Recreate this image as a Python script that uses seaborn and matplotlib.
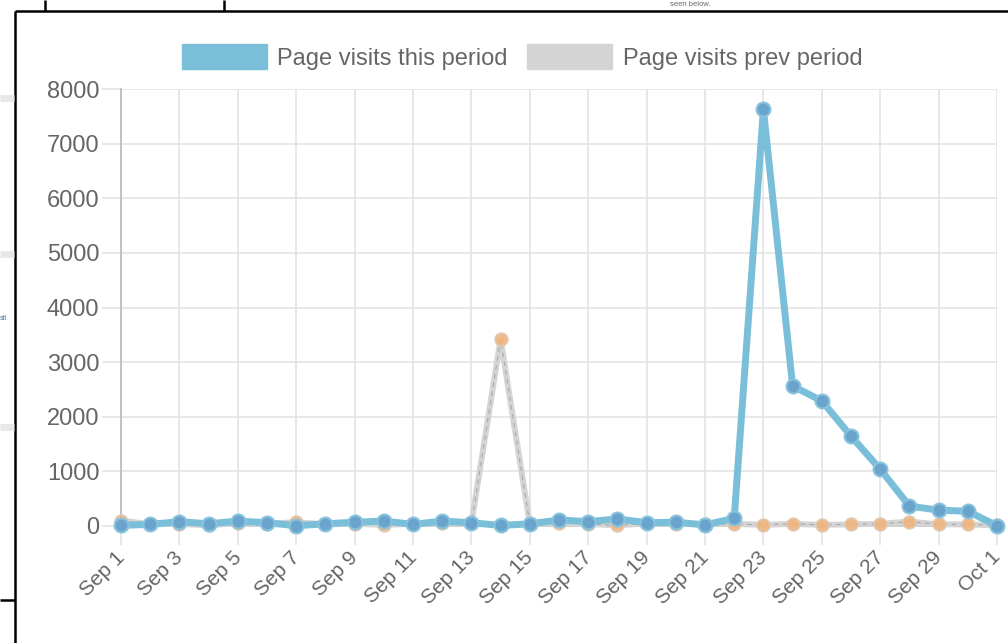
import matplotlib.pyplot as plt
import matplotlib.patches as mpatches
import matplotlib.transforms as mtrans
from matplotlib.lines import Line2D
import seaborn as sns
import pandas as pd

# Daily page visits, Sep 1 - Oct 1
dates = pd.date_range("2017-09-01", "2017-10-01", freq="D")
this_period = [10, 30, 80, 40, 90, 60, 5, 40, 70, 90, 30, 90, 60, 10, 40,
               110, 80, 130, 60, 70, 20, 140, 7630, 2565, 2290, 1645, 1040,
               365, 290, 270, 5]
prev_period = [100, 30, 40, 10, 60, 40, 70, 30, 40, 20, 40, 60, 50, 3420, 40,
               60, 40, 10, 50, 40, 30, 40, 20, 40, 20, 30, 40, 80, 30, 30, 10]
labels = ["Page visits this period", "Page visits prev period"]

df = pd.DataFrame({"date": dates, "this": this_period, "prev": prev_period})

W, H = 1008, 643
sns.set_style("whitegrid")
plt.rcParams['font.family'] = ['Liberation Sans', 'DejaVu Sans']

fig = plt.figure(figsize=(W / 100, H / 100), dpi=100)
ax = fig.add_axes([121 / W, 1 - 526 / H, (997 - 121) / W, (526 - 89) / H])

grid_c = "#e4e4e4"
text_c = "#666666"

# previous period: grey line, thin dashed core, orange points
sns.lineplot(data=df, x="date", y="prev", color="#d4d4d4", lw=4.3, ax=ax,
             clip_on=False, solid_joinstyle="miter", zorder=3)
sns.lineplot(data=df, x="date", y="prev", color="#a8a8a8", lw=0.8, ax=ax,
             clip_on=False, linestyle=(0, (4, 4)), zorder=3.1)
sns.scatterplot(data=df, x="date", y="prev", color="#efb47c", edgecolor="#dcc9b4",
                s=85, linewidth=1.2, alpha=0.9, ax=ax, clip_on=False, zorder=3.2)

# this period: blue line and points
sns.lineplot(data=df, x="date", y="this", color="#79bfd9", lw=5, ax=ax,
             clip_on=False, solid_joinstyle="miter", zorder=4)
sns.scatterplot(data=df, x="date", y="this", color="#6aa3cc", edgecolor="#88c2dc",
                s=100, linewidth=1.5, ax=ax, clip_on=False, zorder=4.1)

ax.set_xlim(dates[0], dates[-1])
ax.set_ylim(0, 8000)
ax.set_yticks(range(0, 8001, 1000))
ax.set_xticks(dates[::2])
ax.set_xticklabels([f"{d:%b} {d.day}" for d in dates[::2]], rotation=45,
                   ha="right", rotation_mode="anchor")
ax.set_xlabel("")
ax.set_ylabel("")

ax.grid(True, color=grid_c, lw=1.2)
ax.tick_params(axis="y", length=13.5, width=1.2, color=grid_c, pad=2,
               labelsize=17, labelcolor=text_c, left=True)
ax.tick_params(axis="x", length=13.5, width=1.2, color=grid_c, pad=2,
               labelsize=15, labelcolor=text_c, bottom=True)
for s in ["top", "right"]:
    ax.spines[s].set_visible(False)
ax.spines["left"].set_color("#b8b8b8")
ax.spines["left"].set_linewidth(1.2)
ax.spines["bottom"].set_color("#c8c8c8")
ax.spines["bottom"].set_linewidth(1.2)

# nudge the rotated date labels a little to the left (after tick_params)
shift = mtrans.ScaledTranslation(-6 / 100, 0, fig.dpi_scale_trans)
for tick in ax.xaxis.get_major_ticks():
    tick.label1.set_transform(tick.label1.get_transform() + shift)

handles = [mpatches.Patch(color="#79bfd9"), mpatches.Patch(color="#d4d4d4")]
fig.legend(handles, labels, loc="center", bbox_to_anchor=(522 / W, 1 - 57 / H),
           ncol=2, frameon=False, fontsize=17, handlelength=3.6, handleheight=1.25,
           handletextpad=0.45, columnspacing=0.8, labelcolor=text_c)


# screenshot surroundings
def px(x, y):
    return x / W, 1 - y / H


def seg(x0, y0, x1, y1, color="black", lw=1.8):
    (a, b), (c, d) = px(x0, y0), px(x1, y1)
    fig.add_artist(Line2D([a, c], [b, d], color=color, lw=lw,
                          solid_capstyle="butt", transform=fig.transFigure))


seg(15, 11, W, 11)
seg(15, 11, 15, H)
seg(45, 0, 45, 11)
seg(224, 0, 224, 11)
seg(0, 600, 15, 600)
for y in [98, 254, 427]:
    seg(0, y, 14, y, color="#e8e8e8", lw=5)
fig.text(*px(690, 4), "seen below.", fontsize=5.5, color="#666666",
         ha="center", va="center")
fig.text(*px(0, 318), "sit", fontsize=5, color="#4a6a8a", va="center")

fig.savefig("out.png", dpi=100)
